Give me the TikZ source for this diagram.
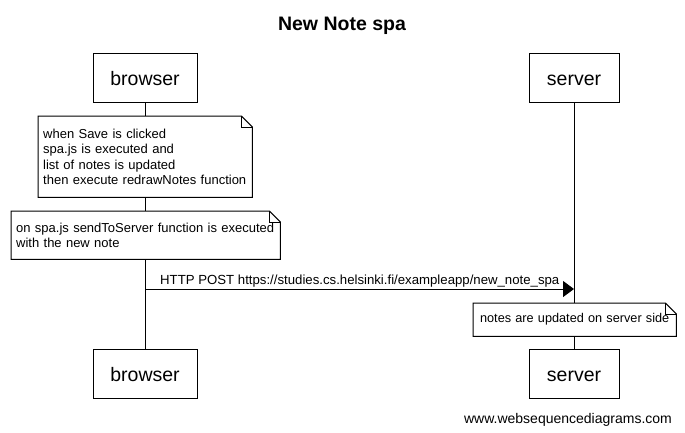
\documentclass[tikz,border=0pt]{standalone}
\usepackage{fontspec}
\setmainfont{Liberation Sans}
\usetikzlibrary{arrows.meta}
\tikzset{
  actor/.style={draw, line width=1pt, fill=white, minimum height=49pt, inner sep=0pt, text height=19pt, text depth=4pt, font=\fontsize{19.5}{22}\selectfont},
  life/.style={line width=1pt},
  notebox/.style={fill=white, inner xsep=5pt, inner ysep=0pt, anchor=north west, align=left, font=\fontsize{13}{15.5}\selectfont},
  noteline/.style={line width=1pt},
  msg/.style={line width=1pt, -{Triangle[length=11pt,width=16pt]}},
  msglabel/.style={anchor=base west, inner sep=0pt, font=\fontsize{13.2}{15.5}\selectfont},
}
\newcommand\foldnote[1]{%
  \draw[noteline] (#1.north west) -- ([xshift=-11pt]#1.north east) -- ([yshift=-11pt]#1.north east) -- (#1.south east) -- (#1.south west) -- cycle;
  \draw[noteline] ([xshift=-11pt]#1.north east) |- ([yshift=-11pt]#1.north east);}
\begin{document}
\begin{tikzpicture}[x=1pt,y=-1pt]
\useasboundingbox (0,0) rectangle (685,432);
\node[anchor=base, inner sep=0pt, font=\bfseries\fontsize{19.5}{22}\selectfont] (title) at (342,30) {New Note spa};
% actors
\node[actor, minimum width=104pt] (bt) at (145,77.5) {browser};
\node[actor, minimum width=90pt] (st) at (574,77.5) {server};
\node[actor, minimum width=104pt] (bb) at (145,373.5) {browser};
\node[actor, minimum width=90pt] (sb) at (574,373.5) {server};
% lifelines
\draw[life] (bt.south) -- (bb.north);
\draw[life] (st.south) -- (sb.north);
% notes
\node[notebox, text width=204pt, minimum height=81pt] (n1) at (38,116) {when Save is clicked\\spa.js is executed and\\list of notes is updated\\then execute redrawNotes function};
\foldnote{n1}
\node[notebox, text width=259pt, minimum height=48pt] (n2) at (11,211) {on spa.js sendToServer function is executed\\with the new note};
\foldnote{n2}
% message
\coordinate (m1s) at (145,289);
\coordinate (m1e) at (574,289);
\draw[msg] (m1s) -- (m1e);
\node[msglabel] (m1l) at (160,284.5) {HTTP POST https://studies.cs.helsinki.fi/exampleapp/new\_note\_spa};
\node[notebox, inner xsep=0pt, align=center, text width=203pt, minimum height=33pt, font=\fontsize{12.7}{15.5}\selectfont] (n3) at (473,303) {notes are updated on server side};
\foldnote{n3}
\node[anchor=base, font=\fontsize{14}{16}\selectfont, inner sep=0pt] (wm) at (568,423) {www.websequencediagrams.com};
\end{tikzpicture}
\end{document}
